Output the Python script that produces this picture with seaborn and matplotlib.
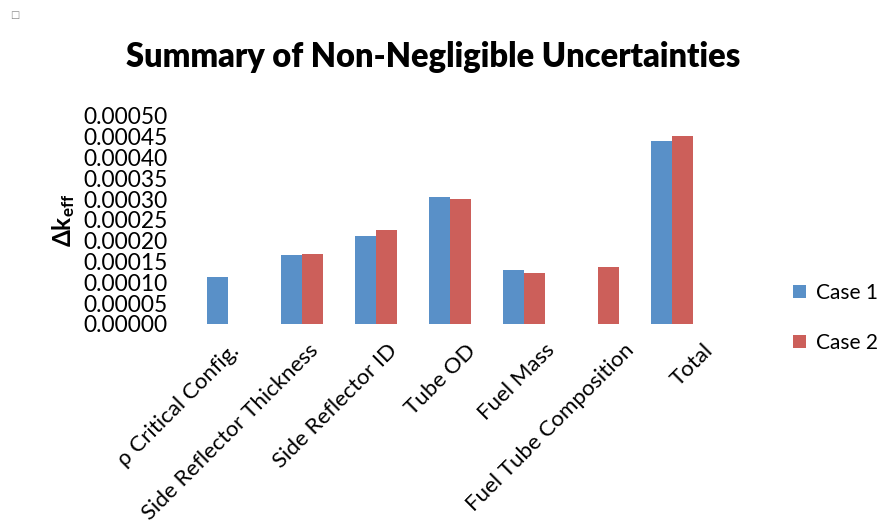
import numpy as np
import pandas as pd
import matplotlib
matplotlib.use("Agg")
import matplotlib.pyplot as plt
import matplotlib.transforms as mtransforms
import seaborn as sns

categories = ["ρ Critical Config.", "Side Reflector Thickness", "Side Reflector ID",
              "Tube OD", "Fuel Mass", "Fuel Tube Composition", "Total"]
case1 = [0.000112, 0.000166, 0.000212, 0.000305, 0.000130, np.nan, 0.000441]
case2 = [np.nan, 0.000168, 0.000226, 0.000301, 0.000123, 0.000138, 0.000453]
series_names = ["Case 1", "Case 2"]
yticks = [i * 0.00005 for i in range(11)]

df = pd.DataFrame({
    "cat": categories * 2,
    "val": case1 + case2,
    "case": [series_names[0]] * len(categories) + [series_names[1]] * len(categories),
})

sns.set_theme(style="white")
plt.rcParams["font.family"] = ["Lato", "DejaVu Sans"]
plt.rcParams["mathtext.fontset"] = "custom"
plt.rcParams["mathtext.rm"] = "Lato"
plt.rcParams["mathtext.bf"] = "Lato:bold"
plt.rcParams["text.color"] = "black"
plt.rcParams["xtick.color"] = "black"
plt.rcParams["ytick.color"] = "black"
plt.rcParams["axes.labelcolor"] = "black"

fs = 16.4
fig = plt.figure(figsize=(8.81, 5.29), dpi=100)
ax = fig.add_axes([191/881, 1-324/529, 518/881, 208/529])
palette = {"Case 1": "#5990C8", "Case 2": "#CC5F5A"}
sns.barplot(data=df, x="cat", y="val", hue="case", palette=palette, width=0.58,
            ax=ax, saturation=1, legend=True, linewidth=0)

ax.set_ylim(0, 0.0005)
ax.set_yticks(yticks)
ax.set_yticklabels([f"{v:.5f}" for v in yticks], fontsize=fs)
ax.tick_params(axis="y", length=0, pad=17)
ax.tick_params(axis="x", length=0, pad=6)
ax.set_xticks(range(len(categories)))
ax.set_xticklabels(categories, rotation=45, ha="right", rotation_mode="anchor", fontsize=16)
for i, lab in enumerate(ax.get_xticklabels()):
    off = mtransforms.ScaledTranslation((1 + 5 * i) / 100, -8 / 100, fig.dpi_scale_trans)
    lab.set_transform(lab.get_transform() + off)
for s in ax.spines.values():
    s.set_visible(False)
ax.set_xlabel("")
ax.set_ylabel(r"$\mathbf{\Delta k_{eff}}$", fontsize=17.5, labelpad=4)

handles, labels = ax.get_legend_handles_labels()
ax.get_legend().remove()
fig.legend(handles, labels, loc="center left", bbox_to_anchor=(793/881, 1-318/529),
           frameon=False, fontsize=15, handlelength=0.6, handleheight=0.6,
           labelspacing=1.46, handletextpad=0.5, borderpad=0, borderaxespad=0)

fig.text(433/881, 1-57/529, "Summary of Non-Negligible Uncertainties",
         ha="center", va="center", fontsize=23.5, fontweight="heavy")
fig.text(15/881, 1-15/529, "□", ha="center", va="center", fontsize=7, color="#888888",
         family="DejaVu Sans")

fig.savefig("out.png", dpi=100)
